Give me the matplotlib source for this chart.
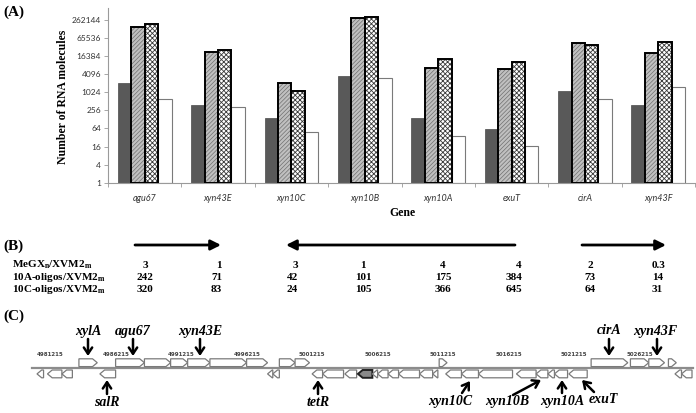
import numpy as np
import matplotlib
matplotlib.use('Agg')
import matplotlib.pyplot as plt
from matplotlib.patches import Polygon, FancyArrowPatch

# ---------------- data ----------------
genes = ['agu67', 'xyn43E', 'xyn10C', 'xyn10B', 'xyn10A', 'exuT', 'cirA', 'xyn43F']
dark_vals = [2100, 400, 146, 3700, 140, 62, 1130, 400]
gray_vals = [150000, 22000, 2050, 300000, 6500, 6200, 44000, 21000]
check_vals = [200000, 26500, 1170, 320000, 13000, 10300, 38000, 47000]
white_vals = [610, 320, 50, 3000, 37, 17, 610, 1530]
ytick_vals = [1, 4, 16, 64, 256, 1024, 4096, 16384, 65536, 262144]

row_labels = [r'MeGX$_\mathrm{n}$/XVM2$_\mathrm{m}$',
              r'10A-oligos/XVM2$_\mathrm{m}$',
              r'10C-oligos/XVM2$_\mathrm{m}$']
megx_ratio = ['3', '1', '3', '1', '4', '4', '2', '0.3']
a10_ratio = ['242', '71', '42', '101', '175', '384', '73', '14']
c10_ratio = ['320', '83', '24', '105', '366', '645', '64', '31']

map_origin = 4981215
pos_labels = [4981215, 4986215, 4991215, 4996215, 5001215,
              5006215, 5011215, 5016215, 5021215, 5026215]
# genes on the map, kb from map_origin
plus_start = [3.2, 6.0, 8.2, 10.2, 11.5, 13.2, 16.0, 18.5, 19.7, 30.7, 42.3, 45.3, 46.7, 48.2]
plus_end = [4.6, 8.2, 10.2, 11.5, 13.2, 16.0, 17.6, 19.7, 20.8, 31.3, 45.1, 46.7, 47.9, 48.8]
minus_start = [0.0, 0.8, 1.9, 4.8, 17.6, 18.0, 21.0, 21.8, 23.5, 24.5, 25.6, 26.0, 26.8,
               27.6, 29.2, 30.2, 31.2, 32.4, 33.7, 36.6, 38.1, 39.0, 39.5, 40.6, 48.7, 49.2]
minus_end = [0.5, 1.9, 2.7, 6.0, 18.0, 18.5, 21.8, 23.4, 24.4, 25.6, 26.0, 26.8, 27.6,
             29.2, 30.2, 30.6, 32.4, 33.7, 36.3, 38.1, 39.0, 39.5, 40.5, 42.0, 49.2, 50.0]
minus_filled = 9  # index of the highlighted gene

# ---------------- style ----------------
W, H = 696, 413
plt.rcParams['mathtext.fontset'] = 'custom'
plt.rcParams['mathtext.rm'] = 'Liberation Serif:bold'
plt.rcParams['mathtext.bf'] = 'Liberation Serif:bold'
plt.rcParams['mathtext.it'] = 'Liberation Serif:bold:italic'
SERIF = 'Liberation Serif'
SANS = 'Lato'

fig = plt.figure(figsize=(W / 100, H / 100), dpi=100)

def fx(px):
    return px / W

def fy(py):
    return 1 - py / H

# ---------------- panel A ----------------
ax_l, ax_r, ax_b, ax_t = 108, 695, 182.7, 8
ax = fig.add_axes([fx(ax_l), fy(ax_b), fx(ax_r - ax_l), (ax_b - ax_t) / H])
ax.set_yscale('log', base=2)
ylo = 1
yhi = 2 ** ((ax_b - ax_t) / ((ax_b - 20) / 18))
ax.set_ylim(ylo, yhi)
ax.set_xlim(-0.5, len(genes) - 0.5)

x = np.arange(len(genes))
bw = 0.183
offs = np.array([-1.5, -0.5, 0.5, 1.5]) * bw

def hbar(xpos, vals, fill, hatch, hcol, edge, lw, hlw):
    plt.rcParams['hatch.linewidth'] = hlw
    h = np.array(vals) - 1
    if hatch:
        ax.bar(xpos, h, bw, bottom=1, color=fill, hatch=hatch, edgecolor=hcol, linewidth=0, zorder=2)
        ax.bar(xpos, h, bw, bottom=1, facecolor='none', edgecolor=edge, linewidth=lw, zorder=3)
    else:
        ax.bar(xpos, h, bw, bottom=1, color=fill, edgecolor=edge, linewidth=lw, zorder=2)

hbar(x + offs[0], dark_vals, '#595959', None, None, '#4a4a4a', 0.5, 0.5)
hbar(x + offs[1], gray_vals, '#c0c0c0', '////////', '#707070', 'black', 1.4, 0.5)
hbar(x + offs[2], check_vals, 'white', 'xxxxxxx', '#3a3a3a', 'black', 1.4, 0.6)
hbar(x + offs[3], white_vals, 'white', None, None, '#7a7a7a', 0.8, 0.5)

ax.set_yticks(ytick_vals)
ax.set_yticklabels([str(v) for v in ytick_vals], fontsize=6, family=SANS, color='#333333')
ax.yaxis.set_minor_locator(matplotlib.ticker.NullLocator())
ax.set_xticks(x)
ax.set_xticklabels(genes, fontsize=6.5, family=SANS, style='italic', color='#333333')
ax.set_xticks(np.arange(len(genes) + 1) - 0.5, minor=True)
ax.tick_params(axis='x', which='major', length=0, pad=8)
ax.tick_params(axis='x', which='minor', length=3, color='#999999', width=0.6)
ax.tick_params(axis='y', length=3, color='#999999', width=0.6, pad=2)
for s in ['top', 'right']:
    ax.spines[s].set_visible(False)
for s in ['left', 'bottom']:
    ax.spines[s].set_color('#9a9a9a')
    ax.spines[s].set_linewidth(0.8)
ax.set_facecolor('none')

fig.text(fx(63), fy(97), 'Number of RNA molecules', rotation=90, ha='center', va='center',
         family=SERIF, weight='bold', fontsize=8.5)
fig.text(fx(402), fy(213), 'Gene', ha='center', va='center', family=SERIF, weight='bold', fontsize=8.5)

for lab, py in [('(A)', 12), ('(B)', 246), ('(C)', 316)]:
    fig.text(fx(3), fy(py), lab, ha='left', va='center', family=SERIF, weight='bold', fontsize=11)

# ---------------- panel B ----------------
row_y = [265, 277, 289]
for lab, py in zip(row_labels, row_y):
    fig.text(fx(12), fy(py), lab, ha='left', va='center', family=SERIF, weight='bold', fontsize=8)

col_x = [145, 222, 298, 363, 443, 522, 590, 652]
col_ha = ['center', 'right', 'right', 'center', 'center', 'right', 'center', 'left']
for vals, py in zip([megx_ratio, a10_ratio, c10_ratio], row_y):
    for v, cx, ha in zip(vals, col_x, col_ha):
        fig.text(fx(cx), fy(py), v, ha=ha, va='center', family=SERIF, weight='bold', fontsize=8)

for (x0, x1) in [(135, 221), (515, 286), (582, 666)]:
    arr = FancyArrowPatch((fx(x0), fy(245)), (fx(x1), fy(245)), transform=fig.transFigure,
                          arrowstyle='-|>,head_length=6,head_width=3', linewidth=2, color='black',
                          shrinkA=0, shrinkB=0)
    fig.add_artist(arr)

# ---------------- panel C ----------------
px_per_kb = 13.1
map_x0 = 37
axc = fig.add_axes([0, 0, 1, (H - 300) / H])
axc.set_xlim(-map_x0 / px_per_kb, (W - map_x0) / px_per_kb)
axc.set_ylim(H, 300)
axc.axis('off')

def kb(px):
    return (px - map_x0) / px_per_kb

line_y = 367.6
axc.plot([kb(32), kb(693)], [line_y, line_y], color='#8c8c8c', lw=1.6, zorder=1)

head = 0.36

def gene_poly(s, e, strand, y0, y1):
    L = e - s
    h = min(head, L)
    ym = (y0 + y1) / 2
    if strand > 0:
        pts = [(s, y0), (e - h, y0), (e, ym), (e - h, y1), (s, y1)]
    else:
        pts = [(e, y0), (s + h, y0), (s, ym), (s + h, y1), (e, y1)]
    return pts

for s, e in zip(plus_start, plus_end):
    axc.add_patch(Polygon(gene_poly(s, e, 1, 358.8, 366.6), closed=True, facecolor='white',
                          edgecolor='#7a7a7a', lw=0.9, zorder=2))
for i, (s, e) in enumerate(zip(minus_start, minus_end)):
    fc = '#8a8a8a' if i == minus_filled else 'white'
    ec = '#222222' if i == minus_filled else '#7a7a7a'
    lw = 1.4 if i == minus_filled else 0.9
    axc.add_patch(Polygon(gene_poly(s, e, -1, 370.0, 377.8), closed=True, facecolor=fc,
                          edgecolor=ec, lw=lw, zorder=2))

for p in pos_labels:
    axc.text((p - map_origin) / 1000.0, 354.5, str(p), ha='left', va='center', fontsize=4,
             family='DejaVu Sans', weight='bold', color='#444444')

# gene name annotations: label, text(px,py), tail(px,py), tip(px,py)
annots = [
    ('xylA', (88, 331), (88, 339), (88, 356)),
    ('agu67', (133, 331), (133, 339), (133, 356)),
    ('xyn43E', (200, 331), (200, 339), (200, 356)),
    ('cirA', (609, 331), (609, 339), (609, 356)),
    ('xyn43F', (655, 331), (657, 339), (657, 356)),
    ('salR', (107, 402), (107, 394), (107, 380)),
    ('tetR', (318, 402), (318, 394), (318, 380)),
    ('xyn10C', (450, 401), (462, 393), (470, 381)),
    ('xyn10B', (507, 401), (513, 395), (541, 380)),
    ('xyn10A', (562, 401), (562, 393), (562, 380)),
    ('exuT', (603, 399), (594, 392), (582, 380)),
]
for lab, (tx, ty), (ax0, ay0), (ax1, ay1) in annots:
    axc.text(kb(tx), ty, lab, ha='center', va='center', family=SERIF, weight='bold',
             style='italic', fontsize=10)
    axc.annotate('', xy=(kb(ax1), ay1), xytext=(kb(ax0), ay0),
                 arrowprops=dict(arrowstyle='->,head_length=0.45,head_width=0.3', lw=1.8,
                                 color='black', shrinkA=0, shrinkB=0))

fig.savefig('out.png', dpi=100)
